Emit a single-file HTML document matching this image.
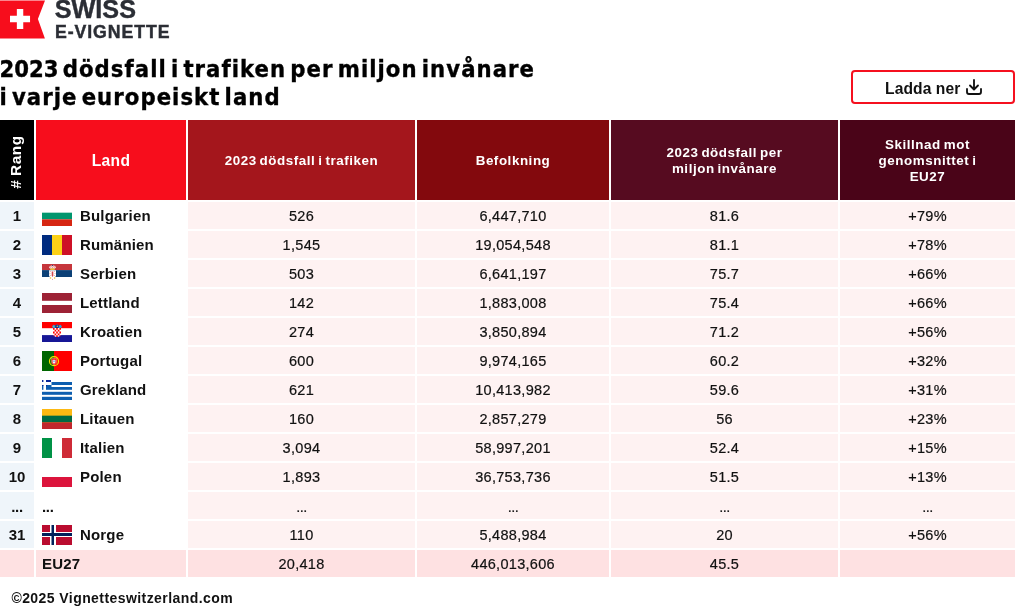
<!DOCTYPE html>
<html lang="sv">
<head>
<meta charset="utf-8">
<title>2023 dödsfall i trafiken per miljon invånare</title>
<style>
html,body{margin:0;padding:0;background:#fff;}
body{width:1015px;height:612px;position:relative;overflow:hidden;font-family:"Liberation Sans",sans-serif;color:#111;}
.logo{position:absolute;left:0;top:0;}
.lt1{position:absolute;left:54.8px;top:-4.6px;-webkit-text-stroke:0.4px #2b2e35;font:bold 25.2px/28px "Liberation Sans",sans-serif;color:#2b2e35;white-space:nowrap;}
.lt2{position:absolute;left:54.9px;top:21.3px;-webkit-text-stroke:0.45px #2b2e35;letter-spacing:0.95px;font:bold 17.7px/22px "Liberation Sans",sans-serif;color:#2b2e35;white-space:nowrap;}
h1{position:absolute;left:-0.5px;top:55.5px;transform:scale(1,0.965);transform-origin:0 0;margin:0;font:bold 23.6px/28.55px "DejaVu Sans Condensed","DejaVu Sans","Liberation Sans",sans-serif;color:#000;white-space:nowrap;letter-spacing:1.05px;word-spacing:-4.3px;-webkit-text-stroke:0.35px #000}
.btn{position:absolute;left:851px;top:70px;width:160px;height:30px;border:2px solid #f5101f;border-radius:4px;background:#fff;}
.btn span{position:absolute;left:32px;top:8px;letter-spacing:0.1px;font:bold 15.6px/18px "Liberation Sans",sans-serif;color:#111;white-space:nowrap;}
.btn svg{position:absolute;left:113.4px;top:6.9px;}
table{position:absolute;left:-2px;top:118px;border-collapse:separate;border-spacing:2px;table-layout:fixed;width:1019px;}
th,td{padding:0;margin:0;overflow:hidden;}
th{height:78px;padding-top:2px;color:#fff;font:bold 13.4px/16px "Liberation Sans",sans-serif;letter-spacing:0.55px;word-spacing:-1.3px;text-align:center;vertical-align:middle;}
td{height:26px;padding-top:1px;font:14.5px/26px "Liberation Sans",sans-serif;letter-spacing:0.3px;-webkit-text-stroke:0.2px #111;text-align:center;background:#fef2f2;white-space:nowrap;color:#111}
td.r{background:#eff5fa;font-weight:bold;font-size:15px;letter-spacing:0;-webkit-text-stroke:0;line-height:27px;height:27px;padding-top:0}
td.c{background:#fff;text-align:left;font-weight:bold;font-size:15px;position:relative;padding-left:44px;letter-spacing:0.18px;-webkit-text-stroke:0;line-height:27px;height:27px;padding-top:0}
td.c svg{position:absolute;left:6px;top:4px;}
tr.dots i{font-style:normal;position:relative;top:0.6px;letter-spacing:-0.5px}
tr.dots td.r i,tr.dots td.c i{letter-spacing:-0.3px}
tr.eu td{background:#fee1e2;}
tr.eu td.c{padding-left:6px}
.foot{position:absolute;left:11.4px;top:588.6px;letter-spacing:0.43px;font:bold 14px/18px "Liberation Sans",sans-serif;color:#111;white-space:nowrap;}
.rang{position:absolute;left:16.3px;top:41.6px;transform:translate(-50%,-50%) rotate(-90deg);white-space:nowrap;font-size:15.4px;letter-spacing:0.6px;line-height:34px;}
</style>
</head>
<body>
<svg class="logo" width="46" height="40" viewBox="0 0 46 40"><path d="M0 0.400H45L37.900 18.900L44.900 38.600H0Z" fill="#f70d1c"/><path d="M16.850 9.100h6.400v6.750h6.800v6.400h-6.800v6.850h-6.400v-6.850h-6.850v-6.400h6.850z" fill="#fff"/></svg>
<div class="lt1">SWISS</div>
<div class="lt2">E-VIGNETTE</div>
<h1><span style="letter-spacing:0px">2023</span> dödsfall i trafiken per miljon invånare<br>i varje europeiskt land</h1>
<div class="btn"><span>Ladda ner</span><svg width="16" height="16" viewBox="0 0 16 16" fill="none" stroke="#111" stroke-width="1.85" stroke-linecap="round" stroke-linejoin="round"><path d="M8 1v9M4 6.5l4 4 4-4M1 10v3a2 2 0 0 0 2 2h10a2 2 0 0 0 2-2v-3"/></svg></div>
<table>
<colgroup><col style="width:34px"><col style="width:150px"><col style="width:227px"><col style="width:192px"><col style="width:227px"><col style="width:175px"></colgroup>
<tr><th style="background:#000;position:relative"><span class="rang"># Rang</span></th><th style="background:#f70d1c;font-size:15.6px;letter-spacing:0.3px">Land</th><th style="background:#a4161c">2023 dödsfall i trafiken</th><th style="background:#83090d">Befolkning</th><th style="background:#560b20">2023 dödsfall per<br>miljon invånare</th><th style="background:#4a0418">Skillnad mot<br>genomsnittet i<br>EU27</th></tr>
<tr><td class="r">1</td><td class="c"><svg width="30" height="20" viewBox="0 0 30 20"><rect width="30" height="20" fill="#fff"/><rect y="6.67" width="30" height="6.67" fill="#00966e"/><rect y="13.33" width="30" height="6.67" fill="#d62612"/></svg>Bulgarien</td><td>526</td><td>6,447,710</td><td>81.6</td><td>+79%</td></tr>
<tr><td class="r">2</td><td class="c"><svg width="30" height="20" viewBox="0 0 30 20"><rect width="10" height="20" fill="#002b7f"/><rect x="10" width="10" height="20" fill="#fcd116"/><rect x="20" width="10" height="20" fill="#ce1126"/></svg>Rumänien</td><td>1,545</td><td>19,054,548</td><td>81.1</td><td>+78%</td></tr>
<tr><td class="r">3</td><td class="c"><svg width="30" height="20" viewBox="0 0 30 20"><rect width="30" height="20" fill="#fff"/><rect width="30" height="6.100" fill="#c6363c"/><rect y="6.100" width="30" height="6.900" fill="#0c4076"/><path d="M7.200 3.200c0-1.200 1.500-1.800 3.300-1.800s3.300.6 3.300 1.800l-.8 1.600h-5z" fill="#f6dede"/><circle cx="10.500" cy="1.500" r=".55" fill="#0c4076"/><g fill="#c6363c"><circle cx="8.500" cy="3" r=".45"/><circle cx="10.500" cy="3.300" r=".45"/><circle cx="12.500" cy="3" r=".45"/><circle cx="9.500" cy="2.200" r=".35"/><circle cx="11.500" cy="2.200" r=".35"/></g><rect x="8.300" y="4.400" width="4.400" height="1.700" fill="#edb92e"/><path d="M7.100 6.300h6.900v5.700l-1.300 1.700l-.9 2.600l-1.250.7l-1.250-.7l-.9-2.600l-1.300-1.700z" fill="#fff"/><path d="M9.700 7.500h1.600v4.300l-.8 1.300l-.8-1.300z" fill="#d4474c"/><g fill="#c6363c"><circle cx="8.300" cy="7.600" r=".4"/><circle cx="12.700" cy="7.600" r=".4"/><circle cx="8" cy="9.600" r=".4"/><circle cx="13" cy="9.600" r=".4"/><circle cx="8.500" cy="11.600" r=".4"/><circle cx="12.500" cy="11.600" r=".4"/><circle cx="10.500" cy="15.300" r=".45"/></g><circle cx="8.500" cy="14" r=".8" fill="#edb92e"/><circle cx="12.600" cy="14" r=".8" fill="#edb92e"/></svg>Serbien</td><td>503</td><td>6,641,197</td><td>75.7</td><td>+66%</td></tr>
<tr><td class="r">4</td><td class="c"><svg width="30" height="20" viewBox="0 0 30 20"><rect width="30" height="20" fill="#9d2235"/><rect y="7.8" width="30" height="4.2" fill="#fff"/></svg>Lettland</td><td>142</td><td>1,883,008</td><td>75.4</td><td>+66%</td></tr>
<tr><td class="r">5</td><td class="c"><svg width="30" height="20" viewBox="0 0 30 20"><rect width="30" height="20" fill="#fff"/><rect width="30" height="6.2" fill="#ff0000"/><rect y="13.100" width="30" height="6.900" fill="#171796"/><path d="M10.100 4.500l1.200-1.700 1.700.8 2-1 2 1 1.700-.8 1.200 1.700-1 1.700h-7.800z" fill="#2a9fd8"/><path d="M13.200 3.300l1.800-.8 1.800.8v2.700h-3.600z" fill="#1b2f8f"/><circle cx="15.300" cy="4.300" r=".7" fill="#f7db17"/><circle cx="11.600" cy="4.500" r=".6" fill="#f7db17" opacity=".6"/><path d="M11 6h8v5.500c0 2.200-1.800 3.500-4 3.500s-4-1.300-4-3.500z" fill="#fff"/><g fill="#ff0000"><path d="M11 6h1.600v1.800h-1.600zM14.200 6h1.600v1.800h-1.600zM17.400 6h1.600v1.800h-1.600zM12.600 7.800h1.600v1.800h-1.600zM15.800 7.800h1.600v1.800h-1.600zM11 9.600h1.600v1.800h-1.600zM14.200 9.600h1.600v1.800h-1.600zM17.400 9.600h1.600v1.800h-1.600zM12.600 11.400h1.600v1.800h-1.600zM15.800 11.400h1.600v1.800h-1.600zM14.200 13.200h1.600v1.700h-1.600zM11.500 13.200h1.100v1h-1.100zM17.400 13.200h1.100v1h-1.100z"/></g></svg>Kroatien</td><td>274</td><td>3,850,894</td><td>71.2</td><td>+56%</td></tr>
<tr><td class="r">6</td><td class="c"><svg width="30" height="20" viewBox="0 0 30 20"><rect width="30" height="20" fill="#ff0000"/><rect width="12" height="20" fill="#006600"/><g transform="translate(0,.5)"><circle cx="12" cy="9.700" r="4.500" fill="none" stroke="#f4e400" stroke-width="1.200"/><path d="M9 9.700h6M12 5.200v9M9.600 6.800l4.800 5.800M14.400 6.800l-4.800 5.800" stroke="#d8d000" stroke-width=".5" opacity=".6"/><path d="M9.500 7h5v3.500c0 1.600-1.100 2.500-2.500 2.800c-1.400-.3-2.500-1.200-2.500-2.800z" fill="#ff0000" stroke="#fff" stroke-width=".3"/><path d="M10.500 8.200h3v2.200c0 1-.7 1.600-1.500 1.800c-.8-.2-1.500-.8-1.500-1.800z" fill="#eef4ff"/><path d="M10.700 9.200h2.600v.9h-2.600z" fill="#5a7fd0"/></g></svg>Portugal</td><td>600</td><td>9,974,165</td><td>60.2</td><td>+32%</td></tr>
<tr><td class="r">7</td><td class="c"><svg width="30" height="20" viewBox="0 0 30 20"><rect width="30" height="20" fill="#fff"/><g fill="#0d5eaf"><rect x="9.500" y="2" width="20.500" height="3"/><rect x="4" y="5" width="26" height="4.800" /><rect x="0" y="5" width="1.400" height="4.800"/><rect y="11.800" width="30" height="3"/><rect y="16.800" width="30" height="3.200"/></g><rect x="9.500" y="5" width="20.500" height="2" fill="#fff"/><g fill="#0a2a9a"><rect x="0" y="0" width="1.400" height="2"/><rect x="4" y="0" width="5" height="2"/><rect x="4" y="5" width="1.200" height="1.200"/><rect x="0" y="5" width="1.400" height="1"/></g></svg>Grekland</td><td>621</td><td>10,413,982</td><td>59.6</td><td>+31%</td></tr>
<tr><td class="r">8</td><td class="c"><svg width="30" height="20" viewBox="0 0 30 20"><rect width="30" height="20" fill="#fdb913"/><rect y="6.670" width="30" height="6.670" fill="#006a44"/><rect y="13.330" width="30" height="6.670" fill="#c1272d"/></svg>Litauen</td><td>160</td><td>2,857,279</td><td>56</td><td>+23%</td></tr>
<tr><td class="r">9</td><td class="c"><svg width="30" height="20" viewBox="0 0 30 20"><rect width="30" height="20" fill="#fff"/><rect width="10" height="20" fill="#009246"/><rect x="20" width="10" height="20" fill="#ce2b37"/></svg>Italien</td><td>3,094</td><td>58,997,201</td><td>52.4</td><td>+15%</td></tr>
<tr><td class="r">10</td><td class="c"><svg width="30" height="20" viewBox="0 0 30 20"><rect width="30" height="20" fill="#fff"/><rect y="10" width="30" height="10" fill="#dc143c"/></svg>Polen</td><td>1,893</td><td>36,753,736</td><td>51.5</td><td>+13%</td></tr>
<tr class="dots"><td class="r"><i>...</i></td><td class="c" style="padding-left:6px"><i>...</i></td><td><i>...</i></td><td><i>...</i></td><td><i>...</i></td><td><i>...</i></td></tr>
<tr><td class="r">31</td><td class="c"><svg width="30" height="20" viewBox="0 0 30 20"><rect width="30" height="20" fill="#fff"/><g fill="#ba0c2f"><rect width="8" height="7"/><rect x="14" width="16" height="7"/><rect y="12" width="8" height="8"/><rect x="14" y="12" width="16" height="8"/></g><rect x="9.500" width="2.500" height="20" fill="#00205b"/><rect y="8" width="30" height="3" fill="#00205b"/></svg>Norge</td><td>110</td><td>5,488,984</td><td>20</td><td>+56%</td></tr>
<tr class="eu"><td class="r"></td><td class="c">EU27</td><td>20,418</td><td>446,013,606</td><td>45.5</td><td></td></tr>
</table>
<div class="foot">©2025 Vignetteswitzerland.com</div>
</body>
</html>
